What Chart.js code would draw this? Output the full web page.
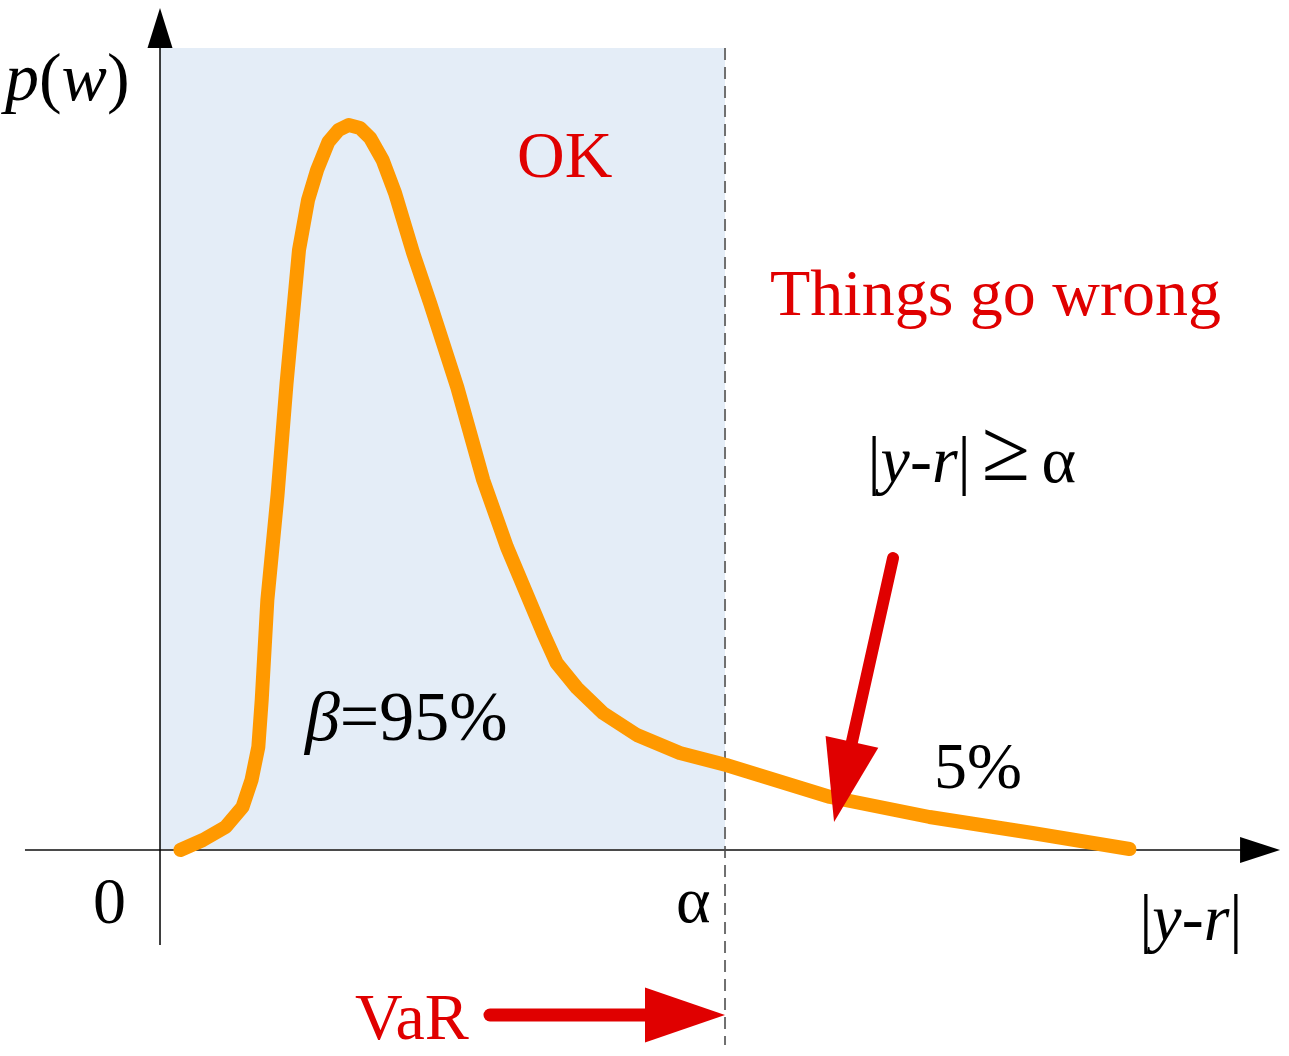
<!DOCTYPE html>
<html>
<head>
<meta charset="utf-8">
<title>VaR density</title>
<script src="https://cdn.jsdelivr.net/npm/chart.js@4.4.1/dist/chart.umd.min.js"></script>
<style>
    html, body { margin: 0; padding: 0; background: #ffffff; }
    #wrap { width: 1289px; height: 1056px; position: relative; }
</style>
</head>
<body>
<div id="wrap"><canvas id="var-chart"></canvas></div>
<script>
// density curve p(w) over |y-r|, alpha sits at x = 5
const curveX = [0.18, 0.38, 0.58, 0.73, 0.81, 0.87, 0.90, 0.95, 1.04, 1.12, 1.23, 1.31, 1.39, 1.49,
    1.58, 1.67, 1.77, 1.86, 1.97, 2.08, 2.24, 2.39, 2.63, 2.86, 3.07, 3.39, 3.51, 3.69, 3.92,
    4.22, 4.60, 5.01, 5.93, 6.81, 7.72, 8.58]
const curveY = [0.00, 0.10, 0.23, 0.43, 0.70, 1.03, 1.50, 2.50, 3.55, 4.67, 6.00, 6.50, 6.80, 7.08,
    7.20, 7.25, 7.22, 7.12, 6.90, 6.57, 5.97, 5.47, 4.63, 3.70, 3.03, 2.17, 1.87, 1.62, 1.37,
    1.15, 0.97, 0.85, 0.53, 0.33, 0.17, 0.01]

const alphaValue = 5
const regionTop = 8.02

const redTexts = ["OK", "Things go wrong", "VaR"]
const betaText = "=95%"
const tailText = "5%"

const RED = "#e00000"
const SERIF = "'Liberation Serif', 'Times New Roman', serif"

function drawRuns(ctx, runs, x, y, size) {
    let cx = x
    for (const [text, italic] of runs) {
        ctx.font = (italic ? "italic " : "") + size + "px " + SERIF
        ctx.fillText(text, cx, y)
        cx += ctx.measureText(text).width
    }
}

function drawArrow(ctx, x0, y0, x1, y1, width, headLen, headW, color) {
    const dx = x1 - x0, dy = y1 - y0
    const len = Math.sqrt(dx * dx + dy * dy)
    const ux = dx / len, uy = dy / len
    const bx = x1 - ux * headLen, by = y1 - uy * headLen
    ctx.save()
    ctx.strokeStyle = color
    ctx.fillStyle = color
    ctx.lineWidth = width
    ctx.lineCap = "round"
    ctx.beginPath()
    ctx.moveTo(x0, y0)
    ctx.lineTo(bx + ux * 2, by + uy * 2)
    ctx.stroke()
    ctx.beginPath()
    ctx.moveTo(x1, y1)
    ctx.lineTo(bx - uy * headW / 2, by + ux * headW / 2)
    ctx.lineTo(bx + uy * headW / 2, by - ux * headW / 2)
    ctx.closePath()
    ctx.fill()
    ctx.restore()
}

const diagramPlugin = {
    id: "diagram",
    beforeDatasetsDraw(chart) {
        const ctx = chart.ctx
        const sx = chart.scales.x, sy = chart.scales.y
        const X = v => sx.getPixelForValue(v)
        const Y = v => sy.getPixelForValue(v)
        ctx.save()
        // acceptable region
        ctx.fillStyle = "#e4edf7"
        ctx.fillRect(X(0), Y(regionTop), X(alphaValue) - X(0), Y(0) - Y(regionTop))

        // alpha dashed line
        ctx.strokeStyle = "#707070"
        ctx.lineWidth = 2
        ctx.setLineDash([12, 7])
        ctx.beginPath()
        ctx.moveTo(X(alphaValue), Y(regionTop))
        ctx.lineTo(X(alphaValue), Y(-1.95))
        ctx.stroke()
        ctx.setLineDash([])

        // x axis
        ctx.strokeStyle = "#4a4a4a"
        ctx.lineWidth = 2
        ctx.beginPath()
        ctx.moveTo(X(-1.195), Y(0))
        ctx.lineTo(X(9.6), Y(0))
        ctx.stroke()
        ctx.fillStyle = "#000"
        ctx.beginPath()
        ctx.moveTo(X(9.912), Y(0))
        ctx.lineTo(X(9.558), Y(0) - 13)
        ctx.lineTo(X(9.558), Y(0) + 13)
        ctx.closePath()
        ctx.fill()

        // y axis
        ctx.strokeStyle = "#000"
        ctx.lineWidth = 1.5
        ctx.beginPath()
        ctx.moveTo(X(0), Y(-0.95))
        ctx.lineTo(X(0), Y(regionTop))
        ctx.stroke()
        ctx.beginPath()
        ctx.moveTo(X(0), Y(8.42))
        ctx.lineTo(X(0) - 12.5, Y(regionTop))
        ctx.lineTo(X(0) + 12.5, Y(regionTop))
        ctx.closePath()
        ctx.fill()
        ctx.restore()
    },
    afterDatasetsDraw(chart) {
        const ctx = chart.ctx
        const sx = chart.scales.x, sy = chart.scales.y
        const X = v => sx.getPixelForValue(v)
        const Y = v => sy.getPixelForValue(v)
        ctx.save()
        ctx.textBaseline = "alphabetic"
        ctx.textAlign = "left"

        // arrows
        drawArrow(ctx, X(6.487), Y(2.92), X(5.965), Y(0.28), 12, 82, 54, RED)
        drawArrow(ctx, X(2.92), Y(-1.65), X(alphaValue), Y(-1.65), 13, 80, 55, RED)

        // red labels
        ctx.fillStyle = RED
        ctx.font = "66px " + SERIF
        ctx.fillText(redTexts[0], X(3.159), Y(6.73))
        ctx.fillText(redTexts[1], X(5.398), Y(5.35))
        ctx.fillText(redTexts[2], X(1.726), Y(-1.89))

        // black labels
        ctx.fillStyle = "#000"
        drawRuns(ctx, [["p", true], ["(", false], ["w", true], [")", false]], X(-1.372), Y(7.5), 68)
        drawRuns(ctx, [["\u03b2", true], [betaText, false]], X(1.283), Y(1.10), 70)
        drawRuns(ctx, [[tailText, false]], X(6.85), Y(0.62), 66)
        drawRuns(ctx, [["0", false]], X(-0.593), Y(-0.73), 66)
        drawRuns(ctx, [["\u03b1", false]], X(4.566), Y(-0.72), 66)
        drawRuns(ctx, [["|", false], ["y", true], ["-", false], ["r", true], ["|", false]], X(8.665), Y(-0.90), 66)
        drawRuns(ctx, [["|", false], ["y", true], ["-", false], ["r", true], ["|", false]], X(6.26), Y(3.68), 66)
        drawRuns(ctx, [["\u2265", false]], X(7.27), Y(3.70), 88)
        drawRuns(ctx, [["\u03b1", false]], X(7.80), Y(3.68), 66)
        ctx.restore()
    }
}

const curvePoints = curveX.map((x, i) => ({x: x, y: curveY[i]}))

const varChart = new Chart(document.getElementById("var-chart"), {
    type: "line",
    data: {
        datasets: [
            {
                label: "p(w)",
                data: curvePoints,
                borderColor: "#ff9900",
                borderWidth: 14,
                borderCapStyle: "round",
                borderJoinStyle: "round",
                pointRadius: 0,
                tension: 0,
                fill: false
            }
        ]
    },
    options: {
        responsive: true,
        maintainAspectRatio: false,
        animation: false,
        layout: {
            padding: 0
        },
        scales: {
            x: {
                type: "linear",
                min: -1.416,
                max: 9.991,
                display: false
            },
            y: {
                type: "linear",
                min: -2.06,
                max: 8.5,
                display: false
            }
        },
        plugins: {
            legend: { display: false },
            tooltip: { enabled: false },
            title: { display: false }
        }
    },
    plugins: [diagramPlugin]
})
</script>
</body>
</html>
